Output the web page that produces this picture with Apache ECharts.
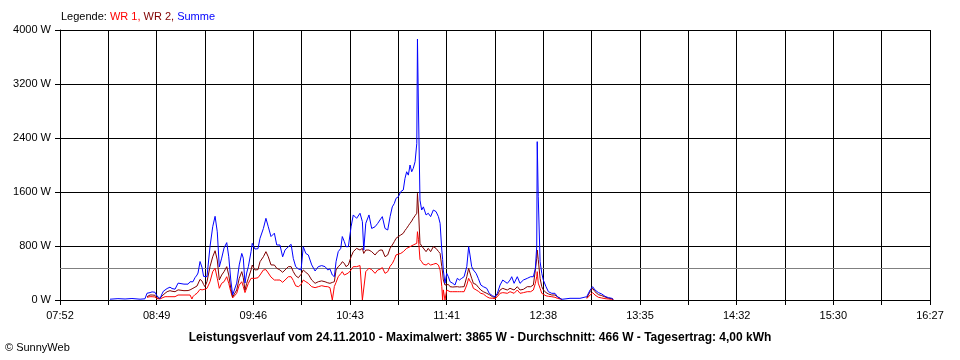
<!DOCTYPE html>
<html>
<head>
<meta charset="utf-8">
<script src="https://cdn.jsdelivr.net/npm/echarts@6/dist/echarts.min.js"></script>
<style>
html,body{margin:0;padding:0;background:#fff;}
#chart{width:960px;height:360px;}
</style>
</head>
<body>
<div id="chart"></div>
<script>
// X tick labels (clock times) and span of the time axis in minutes (07:52 -> 16:27)
const tickLabels = ['07:52','08:49','09:46','10:43','11:41','12:38','13:35','14:32','15:30','16:27'];
const spanMinutes = 515;

// Sample times, minutes after 07:52
const minutesAfterStart = [
 29.6,34.3,38.5,42.6,47.4,50.3,51.5,53.3,54.5,56.2,
 57.4,59.2,60.4,61.2,62.2,63.4,65.1,66.3,68.1,69.9,
 71.0,73.4,75.8,77.0,78.1,78.7,79.9,81.1,81.7,82.9,
 84.1,85.0,85.8,87.0,88.8,90.4,91.8,93.1,94.3,95.7,
 97.1,98.7,99.9,101.1,102.2,103.2,104.6,106.1,107.6,108.5,
 109.5,110.5,111.5,113.1,113.8,115.4,117.2,118.4,120.4,121.9,
 123.3,124.9,126.9,128.3,130.2,131.8,133.2,135.2,136.8,138.1,
 139.5,141.1,142.7,144.0,145.5,147.0,149.0,151.0,152.9,154.9,
 156.9,158.5,159.8,161.2,161.6,162.4,163.4,164.7,166.2,167.1,
 168.3,169.3,170.7,172.3,173.6,175.6,177.6,179.0,179.8,181.0,
 182.9,184.5,186.5,188.1,189.4,190.8,192.4,194.0,195.4,196.7,
 197.9,198.9,200.3,201.7,203.2,204.2,205.2,206.2,207.2,208.2,
 209.1,210.2,211.2,211.6,212.2,213.1,214.1,215.1,216.7,218.0,
 219.4,221.0,222.6,224.0,225.0,226.0,226.5,226.9,227.9,228.9,
 229.9,230.9,232.5,233.8,235.2,236.4,237.8,239.2,240.8,241.9,
 242.7,243.7,244.7,246.3,247.6,249.1,250.6,252.6,254.1,256.2,
 257.5,258.9,260.5,262.1,263.4,264.8,266.4,267.4,268.8,270.7,
 272.3,274.3,276.6,278.6,280.2,281.4,282.2,282.5,283.1,284.2,
 285.2,286.1,287.7,289.1,291.1,293.0,294.4,297.0,301.9,307.8,
 311.8,313.8,315.3,316.7,318.7,320.7,322.6,324.6,326.6,327.5
];

// Summe (W)
const summe = [
 12,20,15,22,12,18,100,110,120,115,
 60,20,90,130,150,170,190,170,160,250,
 240,235,235,270,265,270,330,370,400,570,
 480,350,370,345,790,1085,1240,1010,490,620,
 770,850,640,296,74,50,250,520,690,620,
 250,400,494,716,840,755,760,913,1060,1210,
 1085,940,990,815,815,640,740,790,825,617,
 494,460,445,790,690,667,520,430,494,510,
 494,445,460,370,350,345,567,716,765,940,
 865,790,790,1085,1260,1210,1285,1160,740,1136,
 1260,1060,1085,1136,1185,1235,1060,1037,1235,1380,
 1430,1506,1530,1605,1630,1800,1900,1850,2000,1900,
 1950,2050,2320,3865,2815,1480,1333,1380,1260,1285,
 1235,1333,1310,1235,1136,740,600,445,247,395,
 345,271,247,222,321,296,321,345,494,790,
 667,494,445,395,321,222,197,173,99,59,
 49,99,222,296,271,247,296,345,247,345,
 247,296,321,345,345,470,790,2346,1530,567,
 395,296,197,123,99,99,49,10,25,25,
 49,148,197,148,110,89,55,35,25,10
];

// WR 2 (W)
const wr2 = [
 null,null,null,null,null,null,49,74,74,70,
 30,25,60,84,100,123,138,130,123,150,
 158,138,140,150,160,173,190,207,230,306,
 280,230,197,271,494,640,730,593,296,370,
 420,494,370,173,45,40,148,321,420,330,
 148,247,321,445,518,445,450,567,641,716,
 640,520,518,470,445,410,445,494,494,420,
 360,330,380,445,410,380,296,247,271,283,
 270,255,247,260,265,271,445,494,530,567,
 543,494,520,640,716,765,740,765,690,740,
 740,716,667,716,740,740,641,667,765,815,
 865,913,940,963,988,1030,1062,1100,1136,1170,
 1210,1250,1285,1580,1333,840,800,790,716,765,
 716,790,765,720,690,494,400,296,222,247,
 230,197,192,195,197,192,195,197,345,470,
 400,321,247,230,190,148,123,99,80,45,
 40,74,148,173,160,148,173,180,148,197,
 148,158,197,197,222,444,617,740,600,321,
 197,150,110,90,74,74,49,10,null,null,
 30,123,173,123,80,65,45,28,20,10
];

// WR 1 (W)
const wr1 = [
 null,null,null,null,null,null,40,49,49,45,
 20,15,30,49,49,49,49,49,49,74,
 74,74,74,74,15,49,80,99,120,158,
 150,148,160,173,271,420,470,321,173,247,
 271,345,247,123,30,25,99,222,271,200,
 110,123,247,321,321,321,330,370,445,450,
 400,340,296,296,296,262,296,345,345,290,
 210,197,230,296,271,247,197,183,197,212,
 200,197,183,0,0,200,260,345,390,420,
 370,370,400,445,494,494,510,0,0,420,
 470,450,395,445,455,480,395,420,500,540,
 600,667,680,690,716,740,765,780,790,800,
 815,830,840,1012,900,600,567,530,518,543,
 518,530,543,518,445,200,0,150,0,148,
 123,123,123,123,123,123,123,123,222,321,
 280,247,173,150,130,99,89,49,30,25,
 20,49,99,109,105,99,123,110,99,148,
 99,109,123,123,148,247,345,420,250,173,
 99,80,62,55,49,40,25,10,null,null,
 20,74,109,74,40,30,20,15,10,5
];

// Daily average (W) shown as grey line
const averageW = 466;

const halfStep = spanMinutes / 18;
const toPairs = vals => minutesAfterStart.map((m, i) => [m / halfStep, vals[i]]);

const chart = echarts.init(document.getElementById('chart'));
const FONT = "'Liberation Sans', Arial, sans-serif";
const lineSeries = (name, color, vals, z) => ({
  name, type: 'line', data: toPairs(vals), showSymbol: false, symbol: 'none',
  lineStyle: { color, width: 1 }, itemStyle: { color }, connectNulls: false,
  animation: false, z
});

chart.setOption({
  animation: false,
  backgroundColor: '#ffffff',
  grid: { left: 60, right: 30, top: 30, bottom: 60 },
  xAxis: {
    type: 'value', min: 0, max: 18, interval: 1,
    axisLine: { show: true, lineStyle: { color: '#000', width: 1 } },
    axisTick: { show: true, length: 5, lineStyle: { color: '#000' } },
    splitLine: { show: true, lineStyle: { color: '#000', width: 1 } },
    axisLabel: {
      color: '#000', fontSize: 11, fontFamily: FONT, margin: 10,
      formatter: v => (Math.round(v) % 2 === 0 ? tickLabels[Math.round(v) / 2] : '')
    }
  },
  yAxis: {
    type: 'value', min: 0, max: 4000, interval: 800,
    axisLine: { show: true, lineStyle: { color: '#000', width: 1 } },
    axisTick: { show: true, length: 5, lineStyle: { color: '#000' } },
    splitLine: { show: true, lineStyle: { color: '#000', width: 1 } },
    axisLabel: { color: '#000', fontSize: 11, fontFamily: FONT, margin: 9, formatter: v => String(Math.round(v)) + ' W' }
  },
  series: [
    Object.assign(lineSeries('WR 1', '#ff0000', wr1, 3), {
      markLine: {
        silent: true, symbol: ['none', 'none'], label: { show: false },
        lineStyle: { color: '#808080', width: 1, type: 'solid' },
        data: [{ yAxis: averageW }], animation: false, z: 1
      }
    }),
    lineSeries('WR 2', '#800000', wr2, 4),
    lineSeries('Summe', '#0000ff', summe, 5)
  ],
  graphic: [
    {
      type: 'text', left: 61, top: 11,
      style: {
        text: '{k|Legende: }{a|WR 1, }{b|WR 2, }{c|Summe}',
        rich: {
          k: { fill: '#000', fontSize: 11, fontFamily: FONT },
          a: { fill: '#ff0000', fontSize: 11, fontFamily: FONT },
          b: { fill: '#800000', fontSize: 11, fontFamily: FONT },
          c: { fill: '#0000ff', fontSize: 11, fontFamily: FONT }
        }
      }
    },
    {
      type: 'text', x: 480, y: 338,
      style: {
        text: 'Leistungsverlauf vom 24.11.2010 - Maximalwert: 3865 W - Durchschnitt: 466 W - Tagesertrag: 4,00 kWh',
        fill: '#000', fontSize: 12, fontWeight: 'bold', fontFamily: FONT,
        align: 'center', verticalAlign: 'middle'
      }
    },
    {
      type: 'text', x: 5, y: 348,
      style: { text: '© SunnyWeb', fill: '#000', fontSize: 11, fontFamily: FONT, verticalAlign: 'middle' }
    }
  ]
});
</script>
</body>
</html>
